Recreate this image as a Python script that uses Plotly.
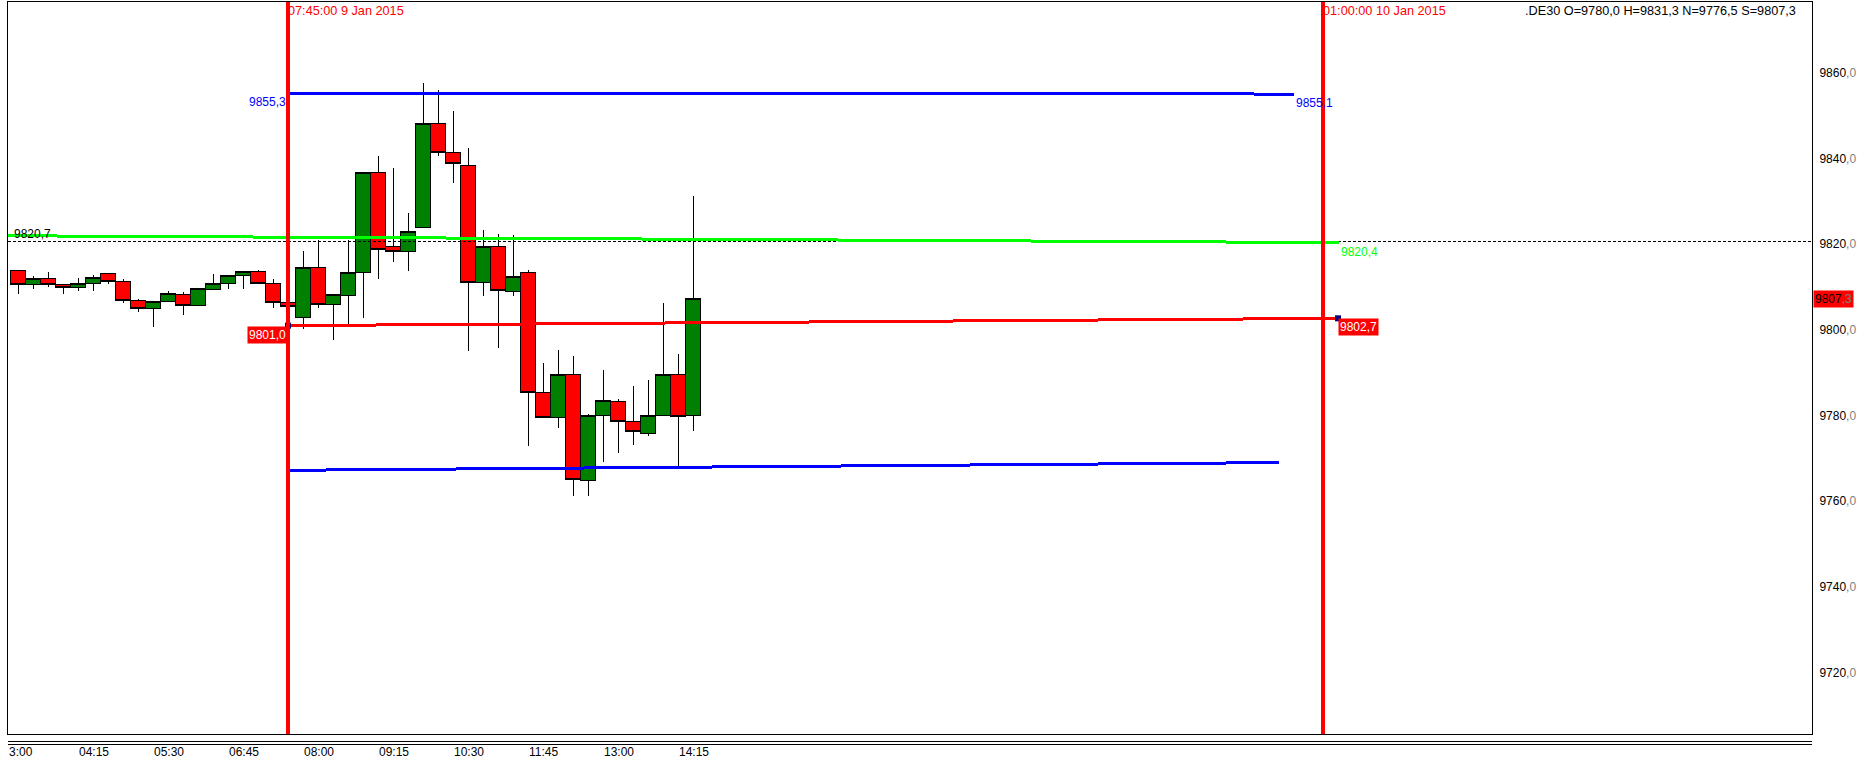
import plotly.graph_objects as go

# ---------------- data ----------------
DAY1 = "2015-01-09"
DAY2 = "2015-01-10"

times = ["03:15", "03:30", "03:45", "04:00", "04:15", "04:30", "04:45", "05:00",
         "05:15", "05:30", "05:45", "06:00", "06:15", "06:30", "06:45", "07:00",
         "07:15", "07:30", "07:45", "08:00", "08:15", "08:30", "08:45", "09:00",
         "09:15", "09:30", "09:45", "10:00", "10:15", "10:30", "10:45", "11:00",
         "11:15", "11:30", "11:45", "12:00", "12:15", "12:30", "12:45", "13:00",
         "13:15", "13:30", "13:45", "14:00", "14:15", "14:30"]

opens = [9813.9, 9810.7, 9811.9, 9810.6, 9810.0, 9810.8, 9813.2, 9811.3,
         9806.9, 9805.0, 9806.6, 9808.2, 9805.7, 9809.4, 9810.8, 9812.7,
         9813.6, 9810.8, 9806.5, 9802.8, 9814.5, 9806.0, 9808.0, 9813.3,
         9836.7, 9819.6, 9818.2, 9823.9, 9848.3, 9841.4, 9838.5, 9811.0,
         9819.4, 9808.9, 9813.3, 9785.3, 9779.5, 9789.5, 9764.8, 9780.0,
         9783.2, 9778.6, 9775.8, 9780.0, 9789.5, 9780.0]
highs = [9813.9, 9812.7, 9813.5, 9810.6, 9812.2, 9812.9, 9813.3, 9811.9,
         9807.2, 9806.6, 9809.2, 9808.8, 9809.7, 9813.1, 9812.7, 9813.6,
         9813.9, 9811.8, 9806.5, 9818.5, 9821.0, 9808.2, 9821.0, 9836.7,
         9840.7, 9837.8, 9827.3, 9857.7, 9856.0, 9851.2, 9842.6, 9823.4,
         9822.4, 9822.2, 9813.9, 9792.3, 9795.4, 9794.0, 9780.4, 9790.7,
         9783.9, 9787.0, 9788.4, 9806.3, 9794.4, 9831.3]
lows = [9808.5, 9809.5, 9810.0, 9808.5, 9809.1, 9809.1, 9810.7, 9806.3,
        9804.2, 9800.7, 9806.6, 9803.5, 9805.7, 9809.4, 9809.6, 9809.6,
        9810.8, 9805.2, 9805.1, 9800.3, 9805.1, 9797.7, 9801.2, 9802.8,
        9811.8, 9815.8, 9813.7, 9823.9, 9840.7, 9834.3, 9795.0, 9807.9,
        9795.7, 9807.9, 9772.9, 9779.5, 9777.1, 9761.2, 9761.2, 9769.2,
        9771.3, 9773.1, 9775.3, 9780.0, 9768.1, 9776.5]
closes = [9810.7, 9811.9, 9810.7, 9810.0, 9810.8, 9812.2, 9811.3, 9806.9,
          9805.0, 9806.6, 9808.5, 9805.7, 9809.7, 9810.8, 9812.7, 9813.6,
          9810.8, 9806.5, 9805.5, 9814.5, 9806.0, 9808.2, 9813.3, 9836.7,
          9818.9, 9818.2, 9823.1, 9848.3, 9841.4, 9838.8, 9811.1, 9819.4,
          9809.1, 9812.4, 9785.3, 9779.5, 9789.5, 9765.0, 9780.0, 9783.5,
          9778.6, 9776.2, 9780.0, 9789.5, 9779.7, 9807.3]

# overlay levels: (time, value) at start and end
blue_top = [(DAY1 + " 07:45", 9855.3), (DAY2 + " 00:31", 9855.1)]
blue_bottom = [(DAY1 + " 07:45", 9767.2), (DAY2 + " 00:16", 9769.0)]
red_level = [(DAY1 + " 07:45", 9801.0), (DAY2 + " 01:15", 9802.7)]
green_level = [(DAY1 + " 03:00", 9822.0), (DAY2 + " 01:16", 9820.4)]
dotted_level = 9820.7

vlines = [DAY1 + " 07:45", DAY2 + " 01:00"]
vline_labels = ["07:45:00 9 Jan 2015", "01:00:00 10 Jan 2015"]

header_text = ".DE30 O=9780,0 H=9831,3 N=9776,5 S=9807,3"
last_price = 9807.3

y_ticks = [9720, 9740, 9760, 9780, 9800, 9820, 9840, 9860]
x_tick_times = ["03:00", "04:15", "05:30", "06:45", "08:00", "09:15", "10:30",
                "11:45", "13:00", "14:15"]
x_tick_labels = ["3:00", "04:15", "05:30", "06:45", "08:00", "09:15", "10:30",
                 "11:45", "13:00", "14:15"]

# ---------------- layout geometry ----------------
W, H = 1857, 762
ML, MR, MT, MB = 8, 45, 2, 28
PLOT_H = H - MT - MB
x_range = [DAY1 + " 03:05", DAY2 + " 09:09"]
y_range = [9705.6, 9876.6]

FONT = "Liberation Sans, Arial, sans-serif"
GRAY = "#808080"


def fmt(v):
    return ("%.1f" % v).replace(".", ",")


def split_label(v):
    a, b = fmt(v).split(",")
    return a + "<span style='color:%s'>,%s</span>" % (GRAY, b)


xs = [DAY1 + " " + t for t in times]

fig = go.Figure()

fig.add_trace(go.Candlestick(
    x=xs, open=opens, high=highs, low=lows, close=closes,
    increasing=dict(line=dict(color="black", width=1), fillcolor="#008000"),
    decreasing=dict(line=dict(color="black", width=1), fillcolor="#FF0000"),
    whiskerwidth=0, hoverinfo="skip", showlegend=False,
))

# dotted horizontal line
fig.add_trace(go.Scatter(
    x=[DAY1 + " 03:00", DAY2 + " 09:30"], y=[dotted_level, dotted_level],
    mode="lines", line=dict(color="black", width=1, dash="3px,2px"),
    hoverinfo="skip", showlegend=False))


def add_level(pts, color, width=3):
    fig.add_trace(go.Scatter(
        x=[p[0] for p in pts], y=[p[1] for p in pts], mode="lines",
        line=dict(color=color, width=width), hoverinfo="skip", showlegend=False))


add_level(green_level, "#00FF00")
add_level(red_level, "#FF0000")
add_level(blue_top, "#0000FF")
add_level(blue_bottom, "#0000FF")

# navy end markers of the red level
fig.add_trace(go.Scatter(
    x=[p[0] for p in red_level], y=[p[1] for p in red_level], mode="markers",
    marker=dict(symbol="square", size=6, color="#000080", line=dict(width=0)),
    hoverinfo="skip", showlegend=False))

shapes = []
for t in vlines:
    shapes.append(dict(type="line", xref="x", yref="paper", x0=t, x1=t, y0=0, y1=1,
                       line=dict(color="#FF0000", width=4), layer="above"))
# double rule below the plot
for py in (741.5, 744.5):
    yy = -(py - (H - MB)) / PLOT_H
    shapes.append(dict(type="line", xref="paper", yref="paper", x0=0, x1=1,
                       y0=yy, y1=yy, line=dict(color="black", width=1)))

ann = []
for t, lab in zip(vlines, vline_labels):
    ann.append(dict(x=t, y=1, xref="x", yref="paper", text=lab, showarrow=False,
                    xanchor="left", yanchor="top", xshift=-2,
                    font=dict(color="#FF0000", size=12.7, family=FONT)))
ann.append(dict(x=(1798 - ML) / (W - ML - MR), y=1, xref="paper", yref="paper",
                text=header_text, showarrow=False, xanchor="right", yanchor="top",
                font=dict(color="black", size=12.7, family=FONT)))

# level labels
ann.append(dict(x=blue_top[0][0], y=blue_top[0][1], text=fmt(blue_top[0][1]),
                showarrow=False, xanchor="right", yanchor="top",
                font=dict(color="#0000FF", size=12, family=FONT)))
ann.append(dict(x=blue_top[1][0], y=blue_top[1][1], text=fmt(blue_top[1][1]),
                showarrow=False, xanchor="left", yanchor="top",
                font=dict(color="#0000FF", size=12, family=FONT)))
ann.append(dict(x=red_level[0][0], y=red_level[0][1], text=fmt(red_level[0][1]),
                showarrow=False, xanchor="right", yanchor="top", bgcolor="#FF0000",
                font=dict(color="white", size=12, family=FONT)))
ann.append(dict(x=red_level[1][0], y=red_level[1][1], text=fmt(red_level[1][1]),
                showarrow=False, xanchor="left", yanchor="top", bgcolor="#FF0000",
                font=dict(color="white", size=12, family=FONT)))
ann.append(dict(x=green_level[1][0], y=green_level[1][1], text=fmt(green_level[1][1]),
                showarrow=False, xanchor="left", yanchor="top",
                font=dict(color="#00FF00", size=12, family=FONT)))
ann.append(dict(x=x_range[0], y=dotted_level, text=fmt(dotted_level),
                showarrow=False, xanchor="left", yanchor="bottom", xshift=4, yshift=-2,
                font=dict(color="black", size=12, family=FONT)))

# last price box on the price axis
ann.append(dict(x=1, y=last_price, xref="paper", yref="y", text=split_label(last_price),
                showarrow=False, xanchor="left", yanchor="middle", xshift=1,
                bgcolor="#FF0000", font=dict(color="black", size=12, family=FONT)))

# time axis labels (left aligned at their tick)
for t, lab in zip(x_tick_times, x_tick_labels):
    xt = DAY1 + " " + t
    if xt < x_range[0]:
        xt = x_range[0]
    ann.append(dict(x=xt, y=-(752 - (H - MB)) / PLOT_H, xref="x", yref="paper",
                    text=lab, showarrow=False, xanchor="left", yanchor="middle",
                    xshift=-1, font=dict(color="black", size=12, family=FONT)))

fig.update_layout(
    width=W, height=H,
    margin=dict(l=ML, r=MR, t=MT, b=MB, pad=0),
    paper_bgcolor="white", plot_bgcolor="white",
    showlegend=False, boxgap=0, boxgroupgap=0,
    font=dict(family=FONT, size=12, color="black"),
    xaxis=dict(type="date", range=x_range, showgrid=False, zeroline=False,
               showticklabels=False, ticks="", showline=True, linecolor="black",
               linewidth=1, mirror=True, rangeslider=dict(visible=False),
               fixedrange=True),
    yaxis=dict(range=y_range, side="right", showgrid=False, zeroline=False,
               tickvals=y_ticks, ticktext=[split_label(v) for v in y_ticks],
               ticks="", showline=True, linecolor="black", linewidth=1,
               mirror=True, ticklabelstandoff=4, fixedrange=True,
               tickfont=dict(size=12, family=FONT, color="black")),
    shapes=shapes, annotations=ann,
)

crisp_css = (
    "var s=document.createElement('style');"
    "s.innerHTML='.trace.boxes path, .scatterlayer path.js-line, "
    ".layer-above path, .shapelayer path{shape-rendering:crispEdges;}';"
    "document.head.appendChild(s);"
    "document.body.style.margin='0';"
)
fig.write_html("out.html", config={"displayModeBar": False}, post_script=crisp_css)
